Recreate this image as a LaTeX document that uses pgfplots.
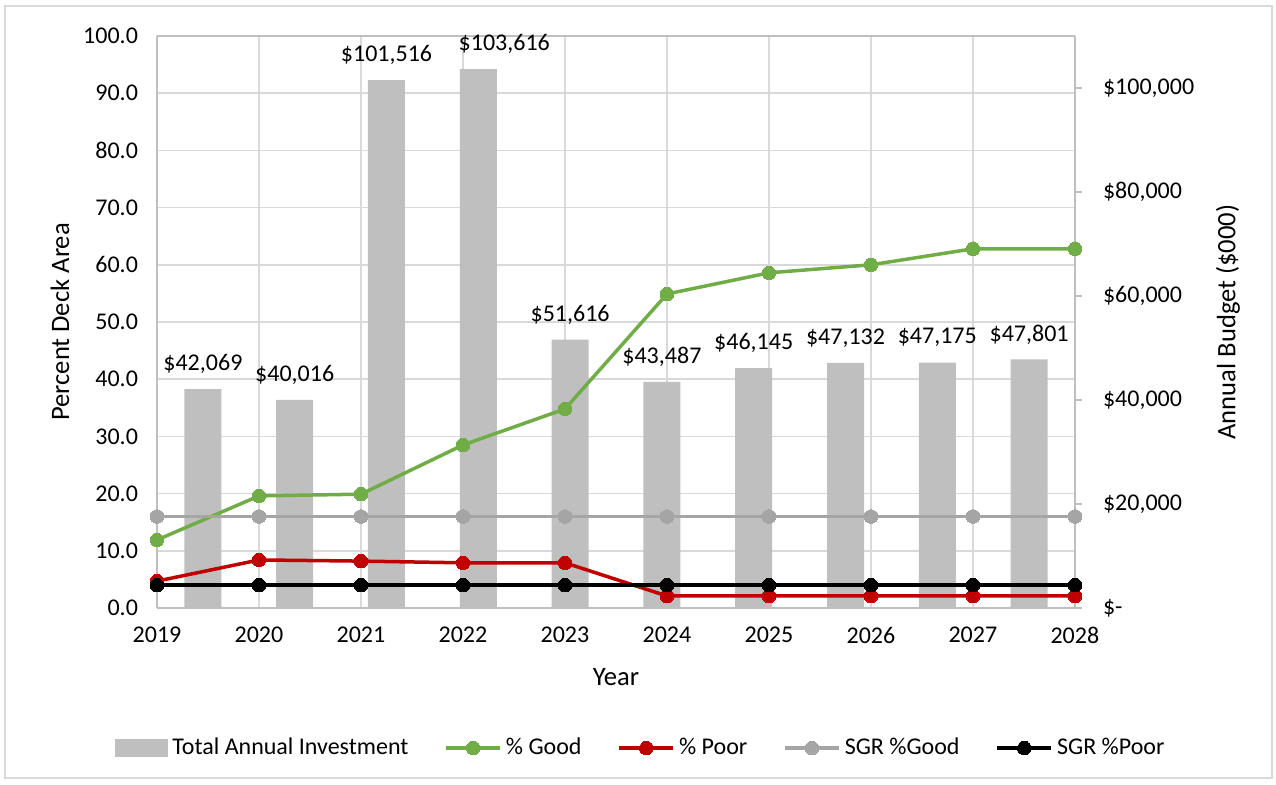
\documentclass[border=0pt]{standalone}
\usepackage{pgfplots}
\pgfplotsset{compat=1.18}
\usepackage{fontspec}
\setmainfont{Carlito}
\definecolor{barcol}{HTML}{BFBFBF}
\definecolor{gridc}{HTML}{D9D9D9}
\definecolor{axisc}{HTML}{BFBFBF}
\definecolor{goodc}{HTML}{70AD47}
\definecolor{poorc}{HTML}{C00000}
\definecolor{sgrg}{HTML}{A5A5A5}
\pgfplotstableread{
x y dx
0 42069 0
1 40016 0
2 101516 0
3 103616 13
4 51616 0
5 43487 0
6 46145 0
7 47132 0
8 47175 0
9 47801 0
}\bardata
\begin{document}
\begin{tikzpicture}
\useasboundingbox (-78.5pt,-88pt) rectangle (559.5pt,304pt);
\draw[gridc, line width=0.75pt] (-76pt,-85pt) rectangle (557.5pt,301pt);
% grid / frame axis
\begin{axis}[at={(0,0)}, anchor=south west, scale only axis,
  width=459pt, height=286pt,
  xmin=2019, xmax=2028, ymin=0, ymax=100,
  xtick={2019,...,2028},
  xticklabels={2019,2020,2021,2022,2023,2024,2025,2026,2027,2028},
  ytick={0,10,...,100},
  yticklabels={0.0,10.0,20.0,30.0,40.0,50.0,60.0,70.0,80.0,90.0,100.0},
  grid=major, major grid style={gridc, line width=0.75pt},
  axis line style={axisc, line width=0.75pt},
  tick style={draw=none},
  ticklabel style={font=\fontsize{12}{14}\selectfont},
  yticklabel style={xshift=-6pt},
  xticklabel style={yshift=-6pt},
  axis y line*=left]
\end{axis}
% bars
\begin{axis}[at={(0,0)}, anchor=south west, scale only axis,
  width=459pt, height=286pt,
  xmin=-0.5, xmax=9.5, ymin=0, ymax=110000,
  axis x line=none, axis y line*=right,
  scaled y ticks=false,
  ytick={0,20000,40000,60000,80000,100000},
  yticklabels={{\$-},{\$20,000},{\$40,000},{\$60,000},{\$80,000},{\$100,000}},
  tick align=outside, major tick length=3.5pt,
  ytick style={axisc, line width=0.75pt},
  axis line style={axisc, line width=0.75pt},
  ticklabel style={font=\fontsize{12}{14}\selectfont},
  yticklabel style={anchor=west, xshift=7pt},
  clip=false]
\addplot[ybar, bar width=18.5pt, fill=barcol, draw=none,
  visualization depends on={\thisrow{dx} \as \dx},
  nodes near coords={\$\pgfmathprintnumber[assume math mode=true,1000 sep={,},fixed,precision=0]{\pgfplotspointmeta}},
  nodes near coords style={anchor=center, yshift=12.5pt, xshift=\dx pt, font=\fontsize{12}{14}\selectfont, text=black},
  point meta=y]
  table[x=x, y=y] {\bardata};
\end{axis}
% lines
\begin{axis}[at={(0,0)}, anchor=south west, scale only axis,
  width=459pt, height=286pt,
  xmin=2019, xmax=2028, ymin=0, ymax=100,
  hide axis, clip=false,
  legend columns=5,
  legend style={at={(rel axis cs:0.528,-0.2448)}, anchor=center, draw=none,
    font=\fontsize{12}{14}\selectfont, legend cell align=left,
    /tikz/every even column/.append style={column sep=16pt}},
  legend image code/.code={\draw[mark repeat=2,mark phase=2,#1] plot coordinates {(0pt,0pt) (13.5pt,0pt) (27pt,0pt)};},
  every axis plot/.append style={line width=1.75pt, mark=*, mark size=3.4pt}]
\addlegendimage{legend image code/.code={\fill[barcol] (0pt,-3.5pt) rectangle (25pt,3.5pt);}}
\addlegendentry{Total Annual Investment}
\addplot[goodc, mark options={fill=goodc, draw=goodc, line width=0pt}] coordinates {
  (2019,11.9) (2020,19.6) (2021,19.9) (2022,28.5) (2023,34.8)
  (2024,54.9) (2025,58.6) (2026,60.0) (2027,62.8) (2028,62.8)};
\addlegendentry{\% Good}
\addplot[poorc, mark options={fill=poorc, draw=poorc, line width=0pt}] coordinates {
  (2019,4.7) (2020,8.4) (2021,8.2) (2022,7.9) (2023,7.9)
  (2024,2.1) (2025,2.1) (2026,2.1) (2027,2.1) (2028,2.1)};
\addlegendentry{\% Poor}
\addplot[sgrg, mark options={fill=sgrg, draw=sgrg, line width=0pt}] coordinates {
  (2019,16.0) (2020,16.0) (2021,16.0) (2022,16.0) (2023,16.0)
  (2024,16.0) (2025,16.0) (2026,16.0) (2027,16.0) (2028,16.0)};
\addlegendentry{SGR \%Good}
\addplot[black, mark options={fill=black, draw=black, line width=0pt}] coordinates {
  (2019,4.0) (2020,4.0) (2021,4.0) (2022,4.0) (2023,4.0)
  (2024,4.0) (2025,4.0) (2026,4.0) (2027,4.0) (2028,4.0)};
\addlegendentry{SGR \%Poor}
\end{axis}
\node[rotate=90, font=\fontsize{13.3}{15}\selectfont] at (-48.5pt,143pt) {Percent Deck Area};
\node[rotate=90, font=\fontsize{13.3}{15}\selectfont] at (535.5pt,143pt) {Annual Budget (\$000)};
\node[font=\fontsize{13.3}{15}\selectfont] at (229.5pt,-34.5pt) {Year};
\end{tikzpicture}
\end{document}
